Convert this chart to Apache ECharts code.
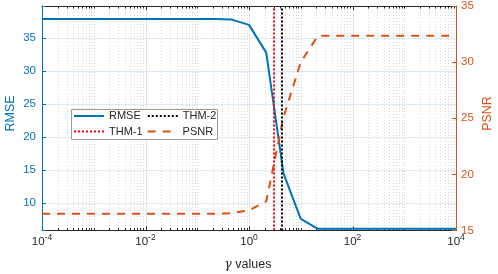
<!DOCTYPE html>
<html><head><meta charset="utf-8">
<script src="https://cdn.jsdelivr.net/npm/echarts@6/dist/echarts.min.js"></script>
<style>html,body{margin:0;padding:0;background:#fff}#c{width:498px;height:274px}</style>
</head><body><div id="c"></div>
<script>
// ---- data ----
const gamma = [1e-4, 2.154e-4, 4.642e-4, 1e-3, 2.154e-3, 4.642e-3, 1e-2, 2.154e-2, 4.642e-2,
  0.1, 0.2154, 0.4642, 1, 2.154, 4.642, 10, 21.54, 46.42, 100, 215.4, 464.2, 1000, 2154, 4642, 10000];
const rmse = [37.9, 37.9, 37.9, 37.9, 37.9, 37.9, 37.9, 37.9, 37.9, 37.9, 37.9, 37.8, 37.0, 32.8,
  14.5, 7.6, 6.1, 6.1, 6.1, 6.1, 6.1, 6.1, 6.1, 6.1, 6.1];
const psnr = [16.5, 16.5, 16.5, 16.5, 16.5, 16.5, 16.5, 16.5, 16.5, 16.5, 16.5, 16.55, 16.8, 17.6,
  25.1, 30.0, 32.35, 32.35, 32.35, 32.35, 32.35, 32.35, 32.35, 32.35, 32.35];
const thm1 = [3.04];
const thm2 = [4.28];
const xTickExps = [-4, -2, 0, 2, 4];
const rmseTicks = [10, 15, 20, 25, 30, 35];
const psnrTicks = [15, 20, 25, 30, 35];

const BLUE = '#0072BD', ORANGE = '#D95319', DARK = '#262626';
const FONT = 'Liberation Sans, Arial, Helvetica, sans-serif';

// log-axis decoration positions (grid lines / ticks)
const logMarks = [];
for (let e = -4; e < 4; e++) for (let m = 1; m <= 9; m++) {
  logMarks.push([m * Math.pow(10, e), 20, (m === 1 && xTickExps.indexOf(e) >= 0) ? 1 : 0]);
}
logMarks.push([1e4, 20, 1]);

const chart = echarts.init(document.getElementById('c'), null, {renderer: 'canvas'});
const legendCommon = {
  orient: 'horizontal', left: 73, padding: 0, itemWidth: 30, itemHeight: 10, z: 10,
  itemStyle: {opacity: 0, borderWidth: 0},
  textStyle: {color: DARK, fontSize: 11, fontFamily: FONT}
};
const option = {
  animation: false,
  textStyle: {fontFamily: FONT},
  grid: {left: 42, right: 42, top: 5.5, bottom: 43.5, containLabel: false},
  xAxis: [{
    type: 'log', logBase: 10, min: 1e-4, max: 1e4, position: 'bottom',
    axisLine: {lineStyle: {color: DARK, width: 1}},
    axisTick: {show: false}, splitLine: {show: false}, minorTick: {show: false},
    axisLabel: {
      show: true, showMinLabel: true, showMaxLabel: true, margin: 3, color: DARK,
      formatter: function (v) {
        const e = Math.round(Math.log10(v));
        if (xTickExps.indexOf(e) < 0) return '';
        return '{b|10}{s|' + e + '}';
      },
      rich: {
        b: {fontSize: 11.5, lineHeight: 16, color: DARK, fontFamily: FONT},
        s: {fontSize: 8.5, lineHeight: 7, verticalAlign: 'top', color: DARK, fontFamily: FONT}
      }
    }
  }, {
    type: 'log', logBase: 10, min: 1e-4, max: 1e4, position: 'top',
    axisLine: {lineStyle: {color: DARK, width: 1}},
    axisTick: {show: false}, splitLine: {show: false}, axisLabel: {show: false}
  }],
  yAxis: [{
    type: 'value', min: 5.85, max: 39.86, splitNumber: 6, position: 'left',
    axisLine: {show: true, lineStyle: {color: BLUE}},
    axisTick: {show: true, inside: true, length: 4, lineStyle: {color: BLUE}},
    splitLine: {show: true, lineStyle: {color: '#dde9f4', width: 1}},
    axisLabel: {
      color: BLUE, fontSize: 11.5, margin: 6,
      formatter: function (v) { return rmseTicks.indexOf(Math.round(v * 100) / 100) >= 0 ? String(v) : ''; }
    }
  }, {
    type: 'value', min: 15, max: 35, interval: 5, position: 'right',
    axisLine: {show: true, lineStyle: {color: ORANGE}},
    axisTick: {show: true, inside: true, length: 4, lineStyle: {color: ORANGE}},
    splitLine: {show: false},
    axisLabel: {
      color: ORANGE, fontSize: 11.5, margin: 5,
      formatter: function (v) { return psnrTicks.indexOf(v) >= 0 ? String(v) : ''; }
    }
  }],
  legend: [
    Object.assign({data: ['RMSE', 'THM-2'], top: 110.5, itemGap: 6}, legendCommon),
    Object.assign({data: ['THM-1', 'PSNR'], top: 126, itemGap: 4}, legendCommon)
  ],
  graphic: [
    {type: 'rect', z: 8, silent: true, shape: {x: 71.5, y: 109.5, width: 146, height: 30},
      style: {fill: '#ffffff', stroke: '#9a9a9a', lineWidth: 1}},
    {type: 'text', z: 8, silent: true, x: 10.5, y: 113.5, rotation: Math.PI / 2,
      style: {text: 'RMSE', fill: BLUE, font: '12.5px ' + FONT, align: 'center', verticalAlign: 'middle'}},
    {type: 'text', z: 8, silent: true, x: 487.5, y: 113.5, rotation: Math.PI / 2,
      style: {text: 'PSNR', fill: ORANGE, font: '12.5px ' + FONT, align: 'center', verticalAlign: 'middle'}},
    {type: 'text', z: 8, silent: true, x: 248, y: 265,
      style: {rich: {g: {font: 'italic 12px DejaVu Serif, serif', fill: DARK}, t: {font: '12.5px ' + FONT, fill: DARK}},
        text: '{g|γ}{t| values}', align: 'center', verticalAlign: 'middle'}}
  ],
  series: [{
    type: 'custom', name: 'grid', silent: true, z: 0, xAxisIndex: 0, yAxisIndex: 0,
    data: logMarks, encode: {x: 0, y: 1}, clip: false,
    renderItem: function (params, api) {
      const cs = params.coordSys;
      const x = Math.round(api.coord([api.value(0), api.value(1)])[0]) + 0.5;
      const major = api.value(2) === 1;
      const top = cs.y, bot = cs.y + cs.height;
      const children = [];
      if (x > cs.x + 1 && x < cs.x + cs.width - 1) {
        children.push({type: 'line', shape: {x1: x, y1: top, x2: x, y2: bot},
          style: major ? {stroke: '#e2e2e2', lineWidth: 1} : {stroke: '#d8d8d8', lineWidth: 1, lineDash: [1, 2]}});
      }
      const L = major ? 4 : 2.5;
      children.push({type: 'line', shape: {x1: x, y1: bot, x2: x, y2: bot - L}, style: {stroke: DARK, lineWidth: 1}});
      children.push({type: 'line', shape: {x1: x, y1: top, x2: x, y2: top + L}, style: {stroke: DARK, lineWidth: 1}});
      return {type: 'group', children: children};
    }
  }, {
    type: 'line', name: 'RMSE', xAxisIndex: 0, yAxisIndex: 0, symbol: 'none', z: 3,
    data: gamma.map((g, i) => [g, rmse[i]]),
    itemStyle: {color: BLUE}, lineStyle: {color: BLUE, width: 2}
  }, {
    type: 'line', name: 'THM-1', xAxisIndex: 0, yAxisIndex: 0, symbol: 'none', z: 4, data: [],
    itemStyle: {color: '#ff0000'}, lineStyle: {color: '#ff0000', width: 2, type: [2, 2]},
    markLine: {silent: true, symbol: 'none', label: {show: false},
      lineStyle: {color: '#ff0000', width: 2, type: [2, 2]},
      data: thm1.map(v => ({xAxis: v}))}
  }, {
    type: 'line', name: 'THM-2', xAxisIndex: 0, yAxisIndex: 0, symbol: 'none', z: 4, data: [],
    itemStyle: {color: '#000000'}, lineStyle: {color: '#000000', width: 2, type: [2, 2]},
    markLine: {silent: true, symbol: 'none', label: {show: false},
      lineStyle: {color: '#000000', width: 2, type: [2, 2]},
      data: thm2.map(v => ({xAxis: v}))}
  }, {
    type: 'line', name: 'PSNR', xAxisIndex: 0, yAxisIndex: 1, symbol: 'none', z: 3,
    data: gamma.map((g, i) => [g, psnr[i]]),
    itemStyle: {color: ORANGE}, lineStyle: {color: ORANGE, width: 2, type: [8, 7]}
  }]
};
chart.setOption(option);
</script></body></html>
